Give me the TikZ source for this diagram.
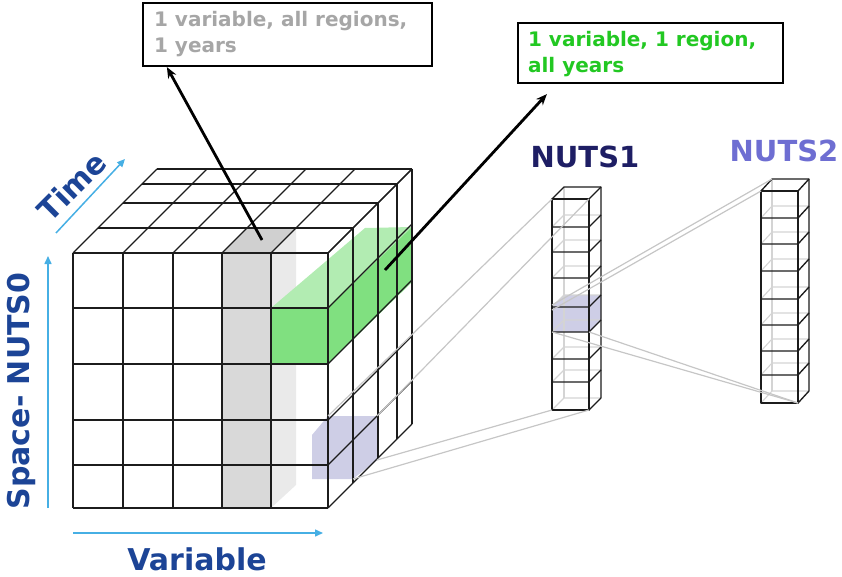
\documentclass[tikz,border=0pt]{standalone}
\usepackage{fontspec}
\setmainfont{DejaVu Sans}
\usetikzlibrary{arrows.meta,calc}

\definecolor{axisblue}{RGB}{28,68,150}
\definecolor{arrowblue}{RGB}{70,175,228}
\definecolor{gridblack}{RGB}{28,28,28}
\definecolor{hiddengray}{RGB}{212,212,212}
\definecolor{linkgray}{RGB}{198,198,198}
\definecolor{slabfront}{RGB}{217,217,217}
\definecolor{slabtop}{RGB}{208,208,208}
\definecolor{slabside}{RGB}{234,234,234}
\definecolor{greenfront}{RGB}{128,224,128}
\definecolor{greentop}{RGB}{178,236,178}
\definecolor{lavender}{RGB}{206,206,230}
\definecolor{nutsonecol}{RGB}{30,30,100}
\definecolor{nutstwocol}{RGB}{110,110,210}
\definecolor{calgray}{RGB}{166,166,166}
\definecolor{calgreen}{RGB}{34,200,34}

\tikzset{
  gridline/.style={draw=gridblack, line width=1.35pt, line join=round},
  hiddenline/.style={draw=hiddengray, line width=1.1pt},
  linkline/.style={draw=linkgray, line width=1.2pt},
  axisarrow/.style={draw=arrowblue, line width=1.5pt, -{Triangle[length=8pt,width=7pt]}},
  axislabel/.style={text=axisblue, font=\fontsize{30}{30}\selectfont\bfseries, inner sep=0pt},
  calloutbox/.style={draw=black, line width=2.2pt, fill=white, inner sep=0pt},
  callouttext/.style={inner sep=0pt, anchor=north west, align=left,
    font=\fontsize{20}{26}\selectfont\bfseries},
  callarrow/.style={draw=black, line width=2.8pt, -{Stealth[length=11pt,width=9pt]}},
  nutslabel/.style={font=\fontsize{29}{29}\selectfont\bfseries, inner sep=0pt}
}

\begin{document}
\begin{tikzpicture}[x=1pt, y=-1pt]
\useasboundingbox (0,0) rectangle (842,577);

% ---------- highlighted slabs inside the cube ----------
% one year slice of one variable (grey)
\fill[slabfront] (222,253) rectangle (271,508);
\fill[slabtop] (222,253)--(271,253)--(296,228)--(247,228)--cycle;
\fill[slabside] (271,253)--(296,228)--(296,485)--(271,508)--cycle;
% one region, all years (green)
\fill[greenfront] (271,308) rectangle (328,364);
\fill[greentop] (271,308)--(328,308)--(412,227)--(365,228)--cycle;
\fill[greenfront] (328,308)--(412,227)--(412,282)--(328,364)--cycle;
% NUTS0 region cell (lavender)
\fill[lavender] (312,435)--(328,416)--(377,416)--(377,460)--(353,479)--(312,479)--cycle;

% ---------- cube grid ----------
% front face
\foreach \x in {73,123,173,222,271,328} \draw[gridline] (\x,253)--(\x,508);
\foreach \y in {253,308,364,420,465,508} \draw[gridline] (73,\y)--(328,\y);
% top face
\foreach \d in {25,50,69,84} \draw[gridline] ({73+\d},{253-\d})--({328+\d},{253-\d});
\foreach \x in {73,123,173,222,271,328} \draw[gridline] (\x,253)--({\x+84},169);
% right face
\foreach \d in {25,50,69,84} \draw[gridline] ({328+\d},{253-\d})--({328+\d},{508-\d});
\foreach \y in {253,308,364,420,465,508} \draw[gridline] (328,\y)--(412,{\y-84});

% ---------- NUTS1 column ----------
\fill[lavender] (552,307)--(564,295)--(601,295)--(601,320)--(589,332)--(552,332)--cycle;
\foreach \y in {227,252,278,307,332,359,382,410}
  \draw[hiddenline] (552,\y)--(564,{\y-12})--(601,{\y-12});
\draw[hiddenline] (564,187)--(564,398);
\draw[gridline] (552,199) rectangle (589,410);
\foreach \y in {199,227,252,278,307,332,359,382,410}
  \draw[gridline] (552,\y)--(589,\y)--(601,{\y-12});
\draw[gridline] (552,199)--(564,187)--(601,187)--(601,398);

% ---------- NUTS2 column ----------
\foreach \y in {218,244,271,299,325,351,375,403}
  \draw[hiddenline] (761,\y)--(772,{\y-12})--(809,{\y-12});
\draw[hiddenline] (772,179)--(772,391);
\draw[gridline] (761,191) rectangle (798,403);
\foreach \y in {191,218,244,271,299,325,351,375,403}
  \draw[gridline] (761,\y)--(798,\y)--(809,{\y-12});
\draw[gridline] (761,191)--(772,179)--(809,179)--(809,391);

% ---------- projection lines ----------
\coordinate (cubeA) at (328,416);
\coordinate (cubeB) at (377,416);
\coordinate (cubeC) at (377,460);
\coordinate (cubeD) at (353,479);
\coordinate (oneTL) at (552,199);
\coordinate (oneTR) at (589,199);
\coordinate (oneBL) at (552,410);
\coordinate (oneBR) at (589,410);
\coordinate (cellA) at (552,305);
\coordinate (cellB) at (552,310);
\coordinate (cellC) at (552,332);
\coordinate (cellD) at (589,332);
\coordinate (twoBack) at (772,179);
\coordinate (twoFront) at (761,191);
\coordinate (twoBottom) at (798,403);
\draw[linkline] (cubeA)--(oneTL);
\draw[linkline] (cubeB)--(oneTR);
\draw[linkline] (cubeC)--(oneBL);
\draw[linkline] (cubeD)--(oneBR);
\draw[linkline] (cellA)--(twoBack);
\draw[linkline] (cellB)--(twoFront);
\draw[linkline] (cellC)--(twoBottom);
\draw[linkline] (cellD)--(twoBottom);

% ---------- axes ----------
\coordinate (spaceLow) at (48,508);
\coordinate (spaceHigh) at (48,256);
\coordinate (timeLow) at (56,233);
\coordinate (timeHigh) at (125,159);
\coordinate (varLow) at (73,533);
\coordinate (varHigh) at (323,533);
\draw[axisarrow] (spaceLow)--(spaceHigh);
\draw[axisarrow] (timeLow)--(timeHigh);
\draw[axisarrow] (varLow)--(varHigh);
\node[axislabel, rotate=90] (spacelab) at (21,391) {Space- NUTS0};
\node[axislabel, rotate=45] (timelab) at (72,186) {Time};
\node[axislabel] (varlab) at (197,559) {Variable};

% ---------- level labels ----------
\node[nutslabel, text=nutsonecol] (nuts1) at (585,157) {NUTS1};
\node[nutslabel, text=nutstwocol] (nuts2) at (784,151) {NUTS2};

% ---------- callouts ----------
\node[calloutbox, minimum width=289pt, minimum height=63pt] (box1) at (287.5,34.5) {};
\node[callouttext, text=calgray] (box1text) at ($(box1.north west)+(12,9)$)
  {1 variable, all regions,\\1 years};
\node[calloutbox, minimum width=265pt, minimum height=60pt] (box2) at (650.5,53) {};
\node[callouttext, text=calgreen] (box2text) at ($(box2.north west)+(11,9)$)
  {1 variable, 1 region,\\all years};
\coordinate (greySlab) at (262,240);
\coordinate (greenSlab) at (385,270);
\draw[callarrow] (greySlab)--($(box1.south west)+(25,0)$);
\draw[callarrow] (greenSlab)--($(box2.south west)+(30,10)$);
\end{tikzpicture}
\end{document}
